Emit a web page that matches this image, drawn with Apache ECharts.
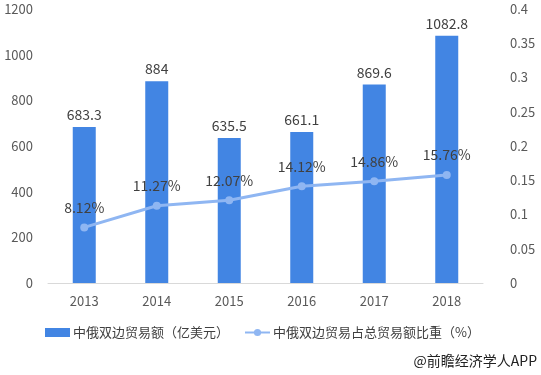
<!DOCTYPE html>
<html><head><meta charset="utf-8">
<script src="https://cdn.jsdelivr.net/npm/echarts@6/dist/echarts.min.js"></script>
<style>html,body{margin:0;padding:0;background:#fff}#c{width:541px;height:375px}</style>
</head><body><div id="c"></div>
<script>
const categories = ['2013','2014','2015','2016','2017','2018'];
const tradeValues = [683.3, 884, 635.5, 661.1, 869.6, 1082.8];
const shareValues = [0.0812, 0.1127, 0.1207, 0.1412, 0.1486, 0.1576];
const shareLabels = ['8.12%','11.27%','12.07%','14.12%','14.86%','15.76%'];
const barName = '中俄双边贸易额（亿美元）';
const lineName = '中俄双边贸易占总贸易额比重（%）';

const chart = echarts.init(document.getElementById('c'));
const font = '"Microsoft YaHei","Noto Sans CJK SC",sans-serif';
chart.setOption({
  animation: false,
  textStyle: {fontFamily: font},
  grid: {left: 48, right: 58, top: 9, bottom: 92},
  legend: {
    bottom: 31, left: 40, itemGap: 15, itemWidth: 25, itemHeight: 9,
    textStyle: {fontSize: 13, color: '#404040', fontFamily: font, padding: [0, 0, 0, -2]},
    data: [{name: barName, icon: 'rect'}, {name: lineName}]
  },
  graphic: [{type: 'text', right: 4, bottom: 7, style: {text: '@前瞻经济学人APP', fontSize: 14, fill: '#222', fontFamily: font}}],
  xAxis: {
    type: 'category', data: categories,
    axisLine: {lineStyle: {color: '#d9d9d9'}}, axisTick: {show: false},
    axisLabel: {color: '#595959', fontSize: 13, margin: 12}
  },
  yAxis: [
    {type: 'value', min: 0, max: 1200, interval: 200, splitLine: {show: false},
     axisLine: {show: false}, axisTick: {show: false},
     axisLabel: {color: '#595959', fontSize: 13, margin: 15, formatter: v => String(v)}},
    {type: 'value', min: 0, max: 0.4, interval: 0.05, splitLine: {show: false},
     axisLine: {show: false}, axisTick: {show: false},
     axisLabel: {color: '#595959', fontSize: 13, margin: 27, formatter: v => String(+v.toFixed(2))}}
  ],
  series: [
    {name: barName, type: 'bar', data: tradeValues, barWidth: 23,
     itemStyle: {color: '#4285e3'},
     label: {show: true, position: 'top', color: '#404040', fontSize: 14, distance: 5}},
    {name: lineName, type: 'line', yAxisIndex: 1, data: shareValues,
     symbol: 'circle', symbolSize: 8,
     lineStyle: {color: '#8fb6f2', width: 3}, itemStyle: {color: '#8fb6f2'},
     label: {show: true, position: 'top', color: '#404040', fontSize: 14, distance: 9,
       formatter: p => shareLabels[p.dataIndex]}}
  ]
});
</script></body></html>
